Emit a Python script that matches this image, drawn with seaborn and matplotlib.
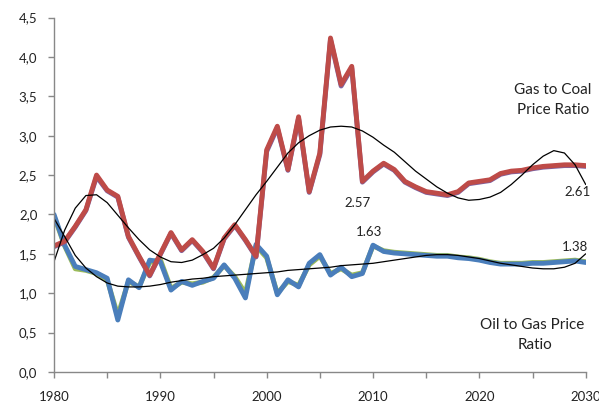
import numpy as np
import pandas as pd
import matplotlib
matplotlib.use("Agg")
import matplotlib.pyplot as plt
from matplotlib.ticker import FuncFormatter, MultipleLocator
import seaborn as sns
import warnings
warnings.filterwarnings("ignore")

years = list(range(1980, 2031))

gas_coal = [1.60, 1.66, 1.85, 2.06, 2.50, 2.31, 2.23, 1.72, 1.47, 1.23,
            1.50, 1.77, 1.55, 1.68, 1.53, 1.32, 1.70, 1.87, 1.68, 1.47,
            2.82, 3.12, 2.57, 3.24, 2.29, 2.78, 4.24, 3.65, 3.88, 2.42,
            2.55, 2.65, 2.57, 2.42, 2.35, 2.29, 2.27, 2.25, 2.29, 2.40,
            2.42, 2.44, 2.52, 2.55, 2.56, 2.59, 2.61, 2.62, 2.63, 2.63, 2.62]

gas_coal_alt = [1.59, 1.65, 1.84, 2.05, 2.48, 2.30, 2.22, 1.71, 1.46, 1.22,
                1.49, 1.76, 1.54, 1.67, 1.52, 1.31, 1.69, 1.86, 1.67, 1.46,
                2.80, 3.10, 2.56, 3.22, 2.28, 2.76, 4.22, 3.63, 3.86, 2.41,
                2.54, 2.64, 2.56, 2.41, 2.34, 2.28, 2.26, 2.24, 2.28, 2.39,
                2.41, 2.43, 2.51, 2.54, 2.55, 2.58, 2.60, 2.61, 2.62, 2.62, 2.61]

oil_gas = [2.00, 1.61, 1.34, 1.30, 1.26, 1.19, 0.66, 1.17, 1.07, 1.42,
           1.40, 1.04, 1.15, 1.10, 1.15, 1.19, 1.36, 1.19, 0.94, 1.62,
           1.47, 0.98, 1.17, 1.08, 1.38, 1.49, 1.23, 1.33, 1.21, 1.25,
           1.61, 1.53, 1.51, 1.50, 1.49, 1.48, 1.47, 1.47, 1.45, 1.44,
           1.42, 1.39, 1.37, 1.37, 1.37, 1.38, 1.38, 1.39, 1.40, 1.41, 1.39]

oil_gas_alt = [1.98, 1.60, 1.31, 1.29, 1.25, 1.17, 0.72, 1.15, 1.08, 1.39,
               1.43, 1.06, 1.14, 1.12, 1.14, 1.20, 1.35, 1.21, 1.00, 1.60,
               1.45, 1.00, 1.15, 1.10, 1.36, 1.47, 1.25, 1.31, 1.23, 1.26,
               1.60, 1.54, 1.52, 1.51, 1.50, 1.49, 1.48, 1.48, 1.46, 1.45,
               1.43, 1.40, 1.38, 1.38, 1.38, 1.39, 1.39, 1.40, 1.41, 1.42, 1.40]

gas_coal_trend = [1.40, 1.80, 2.08, 2.24, 2.25, 2.15, 1.99, 1.83, 1.68, 1.55,
                  1.46, 1.40, 1.39, 1.42, 1.49, 1.57, 1.70, 1.87, 2.06, 2.25,
                  2.42, 2.60, 2.78, 2.91, 3.00, 3.07, 3.11, 3.12, 3.11, 3.06,
                  2.98, 2.88, 2.79, 2.67, 2.55, 2.45, 2.35, 2.27, 2.21, 2.18,
                  2.19, 2.22, 2.28, 2.38, 2.50, 2.63, 2.74, 2.81, 2.78, 2.63, 2.38]

oil_gas_trend = [1.95, 1.72, 1.48, 1.32, 1.21, 1.13, 1.09, 1.08, 1.08, 1.09,
                 1.11, 1.14, 1.16, 1.18, 1.19, 1.21, 1.22, 1.23, 1.24, 1.25,
                 1.26, 1.27, 1.29, 1.30, 1.31, 1.32, 1.33, 1.35, 1.36, 1.37,
                 1.38, 1.40, 1.42, 1.44, 1.46, 1.48, 1.49, 1.49, 1.48, 1.46,
                 1.44, 1.41, 1.38, 1.36, 1.34, 1.32, 1.31, 1.31, 1.33, 1.38, 1.50]

y_ticks = [0.0, 0.5, 1.0, 1.5, 2.0, 2.5, 3.0, 3.5, 4.0, 4.5]
x_ticks = [1980, 1990, 2000, 2010, 2020, 2030]

df = pd.DataFrame({"year": years, "gas_coal": gas_coal, "gas_coal_alt": gas_coal_alt,
                   "oil_gas": oil_gas, "oil_gas_alt": oil_gas_alt,
                   "gas_coal_trend": gas_coal_trend, "oil_gas_trend": oil_gas_trend})

sns.set_theme(style="white")
plt.rcParams["font.family"] = ["Lato", "DejaVu Sans"]

fig = plt.figure(figsize=(5.99, 4.01), dpi=100)
ax = fig.add_axes([54 / 599, 1 - 372 / 401, (585.7 - 54) / 599, (372 - 17.5) / 401])

lw = 3.5
common = dict(solid_joinstyle="round", solid_capstyle="round")
sns.lineplot(data=df, x="year", y="oil_gas_alt", ax=ax, color="#9BBB59", linewidth=lw, **common)
sns.lineplot(data=df, x="year", y="oil_gas", ax=ax, color="#4A7EBB", linewidth=lw, **common)
sns.lineplot(data=df, x="year", y="gas_coal_alt", ax=ax, color="#7D62A1", linewidth=lw, **common)
sns.lineplot(data=df, x="year", y="gas_coal", ax=ax, color="#BE4B48", linewidth=lw, **common)
sns.lineplot(data=df, x="year", y="gas_coal_trend", ax=ax, color="black", linewidth=0.9)
sns.lineplot(data=df, x="year", y="oil_gas_trend", ax=ax, color="black", linewidth=0.9)

ax.set_xlim(1980, 2030)
ax.set_ylim(0, 4.5)
ax.set_xticks(x_ticks)
ax.xaxis.set_minor_locator(MultipleLocator(5))
ax.set_yticks(y_ticks)
ax.yaxis.set_major_formatter(FuncFormatter(lambda v, p: f"{v:.1f}".replace(".", ",")))
ax.set_xlabel("")
ax.set_ylabel("")

for s in ["top", "right"]:
    ax.spines[s].set_visible(False)
for s in ["left", "bottom"]:
    ax.spines[s].set_color("#888888")
    ax.spines[s].set_linewidth(1.0)

ax.tick_params(axis="y", which="major", direction="out", length=4, width=1, color="#888888",
               left=True, labelsize=9.5, pad=8, labelcolor="#222222")
ax.tick_params(axis="x", which="both", direction="out", length=4, width=1, color="#888888",
               bottom=True, labelsize=9.5, pad=10, labelcolor="#222222")
ax.tick_params(axis="x", which="minor", labelbottom=False)

tkw = dict(fontsize=11, color="#222222", ha="center", va="center")
ax.text(2026.9, 3.58, "Gas to Coal", **tkw)
ax.text(2026.9, 3.32, "Price Ratio", **tkw)
ax.text(2025.0, 0.60, "Oil to Gas Price", **tkw)
ax.text(2025.2, 0.34, "Ratio", **tkw)

nkw = dict(fontsize=9.5, color="#222222", ha="center", va="center")
ax.text(2008.5, 2.14, "2.57", **nkw)
ax.text(2009.6, 1.78, "1.63", **nkw)
ax.text(2029.2, 2.29, "2.61", **nkw)
ax.text(2029.0, 1.59, "1.38", **nkw)

fig.savefig("out.png", dpi=100)
